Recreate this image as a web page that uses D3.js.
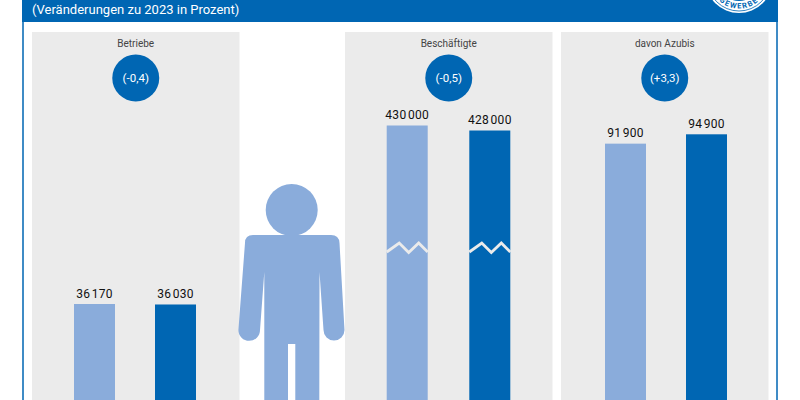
<!DOCTYPE html>
<html>
<head>
<meta charset="utf-8">
<script src="https://cdnjs.cloudflare.com/ajax/libs/d3/7.8.5/d3.min.js"></script>
<style>
  html, body { margin: 0; padding: 0; background: #fff; }
  svg { display: block; }
</style>
</head>
<body>
<svg id="chart" width="800" height="400"></svg>
<script>
// values
const subtitle = "(Veränderungen zu 2023 in Prozent)";
const panelTitles = ["Betriebe", "Beschäftigte", "davon Azubis"];
const panelChanges = ["(-0,4)", "(-0,5)", "(+3,3)"];
const years = ["2023", "2024"];
const betriebe = [36170, 36030];
const beschaeftigte = [430000, 428000];
const azubis = [91900, 94900];
const seriesValues = [betriebe, beschaeftigte, azubis];

const lightBlue = "#8aacdb";
const darkBlue = "#0066b3";
const panelGrey = "#ebebeb";
const fontFamily = "Roboto, 'Noto Sans', sans-serif";

const fmt = d3.formatLocale({ decimal: ",", thousands: "\u200a", grouping: [3], currency: ["", ""] }).format(",d");

const svg = d3.select("#chart");

// frame + header
svg.append("rect").attr("x", 23).attr("y", -5).attr("width", 754).attr("height", 420)
    .attr("fill", "#fff").attr("stroke", darkBlue).attr("stroke-width", 1.5);
svg.append("rect").attr("x", 22).attr("y", 0).attr("width", 756).attr("height", 22).attr("fill", darkBlue);
svg.append("text").attr("x", 32).attr("y", 14).attr("fill", "#fff")
    .style("font-family", fontFamily).style("font-size", "13px")
    .text(subtitle);

// seal, cut by top of the picture
const seal = svg.append("g").attr("transform", "translate(739,-20.5)");
seal.append("circle").attr("r", 33.5).attr("fill", "#fff");
seal.append("circle").attr("r", 31.5).attr("fill", "none").attr("stroke", darkBlue).attr("stroke-width", 0.8);
seal.append("circle").attr("r", 21.5).attr("fill", darkBlue);
seal.append("path").attr("id", "sealArc").attr("fill", "none").attr("d", "M -29 0 A 29 29 0 0 0 29 0");
seal.append("text").attr("fill", darkBlue)
    .style("font-family", fontFamily).style("font-size", "7.5px").style("font-weight", 700).style("letter-spacing", "1.4px")
    .append("textPath").attr("href", "#sealArc").attr("startOffset", "50%").attr("text-anchor", "middle")
    .text("GEWERBE");

// one panel per measure, each with own scale
const panelX = [32, 345, 561];
const panelW = 207.5;
const panelTop = 32;
const barW = 41;
const barStart = [[74, 155], [386.7, 469.3], [605, 686]];
const yBase = [430, 438.5, 430];
const yTop = [304, 125.5, 134.3];
const yDomain = [[0, 36170], [305000, 430000], [0, 94900]];

panelTitles.forEach((title, i) => {
    const g = svg.append("g").attr("transform", "translate(" + panelX[i] + ",0)");
    g.append("rect").attr("x", 0).attr("y", panelTop).attr("width", panelW).attr("height", 400 - panelTop).attr("fill", panelGrey);

    const xScale = d3.scalePoint().domain(years).range(barStart[i].map(d => d - panelX[i]));
    const yScale = d3.scaleLinear().domain(yDomain[i]).range([yBase[i], yTop[i]]);

    g.append("text").attr("x", panelW / 2).attr("y", 47).attr("text-anchor", "middle")
        .attr("fill", "#444").style("font-family", fontFamily).style("font-size", "10px").text(title);

    g.append("circle").attr("cx", panelW / 2).attr("cy", 78).attr("r", 23.5).attr("fill", darkBlue);
    g.append("text").attr("x", panelW / 2).attr("y", 82).attr("text-anchor", "middle")
        .attr("fill", "#fff").style("font-family", fontFamily).style("font-size", "11.5px").text(panelChanges[i]);

    seriesValues[i].forEach((v, j) => {
        const bx = xScale(years[j]);
        g.append("rect").attr("x", bx).attr("y", yScale(v)).attr("width", barW)
            .attr("height", 420 - yScale(v)).attr("fill", j === 0 ? lightBlue : darkBlue);
        g.append("text").attr("x", bx + barW / 2).attr("y", yScale(v) - 6.5).attr("text-anchor", "middle")
            .attr("fill", "#111").style("font-family", fontFamily).style("font-size", "12px").style("letter-spacing", "0.3px").text(fmt(v));
        if (i === 1) {
            // axis break zigzag
            const zig = d3.line().x(d => d[0]).y(d => d[1]);
            g.append("path").attr("fill", "none").attr("stroke", panelGrey).attr("stroke-width", 2.8)
                .attr("d", zig([[bx, 252], [bx + 12.5, 243], [bx + 22, 252.5], [bx + 32, 243], [bx + barW, 252]]));
        }
    });
});

// person pictogram between the panels
const person = svg.append("g").attr("fill", lightBlue);
person.append("circle").attr("cx", 291.7).attr("cy", 210).attr("r", 26);
person.append("path").attr("d",
    "M 253 235 L 331 235 Q 339 235 339.5 243 L 344.5 330 A 10.5 10.5 0 0 1 323.5 330 L 319.5 272 L 319.3 400 L 295.3 400 L 295.3 344 L 288 344 L 288 400 L 264.3 400 L 264.3 272 L 260 330 A 10.8 10.8 0 0 1 238.4 330 L 245 243 Q 245 235 253 235 Z");
</script>
</body>
</html>
